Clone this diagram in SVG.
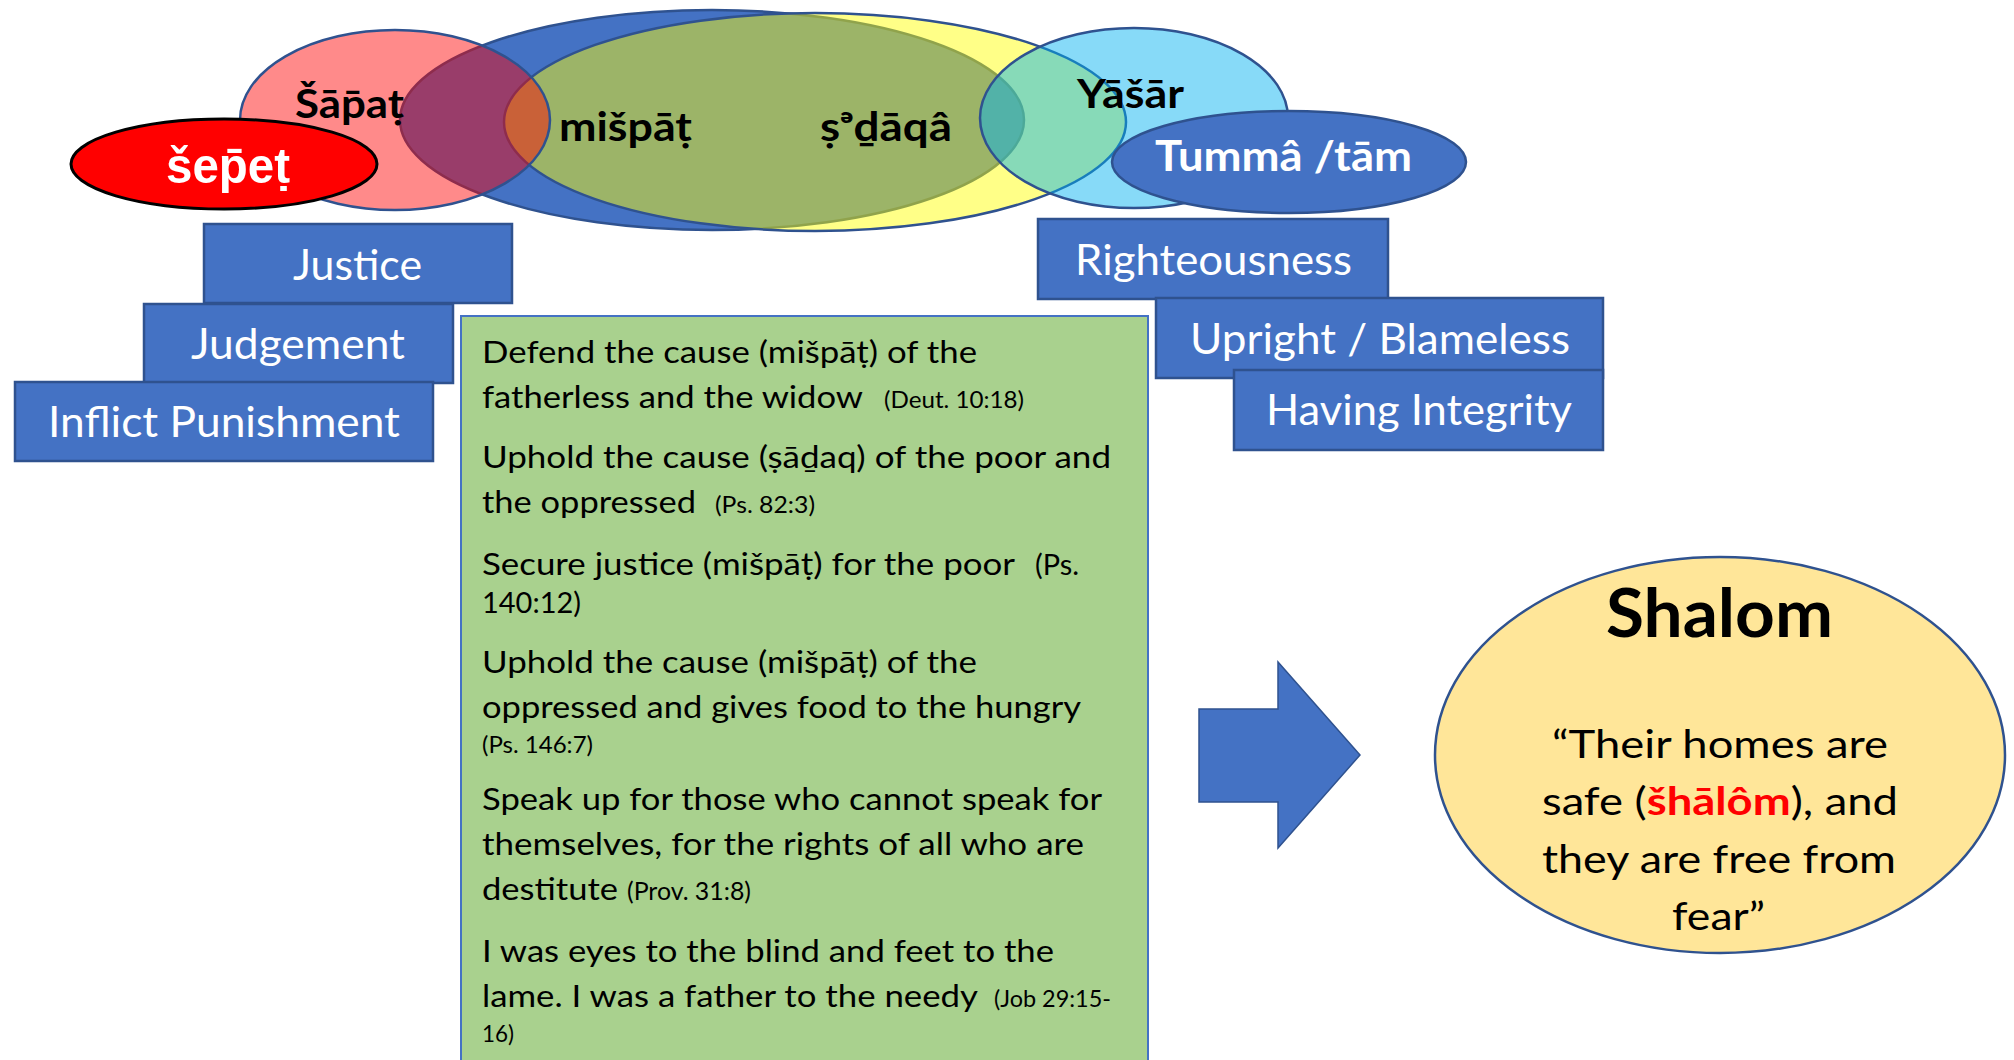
<svg xmlns="http://www.w3.org/2000/svg" width="2014" height="1060" viewBox="0 0 2014 1060">
<style>
.ol{stroke:#2F528F;stroke-width:2.5}
.box{fill:#4472C4;stroke:#2F528F;stroke-width:2.5}
.lbl{font-family:Lato,"Liberation Sans",sans-serif;font-size:42px;fill:#fff}
.hb{font-family:Lato,"Liberation Sans",sans-serif;font-weight:bold;font-size:40px;fill:#000}
.tx{font-family:Lato,"Liberation Sans",sans-serif;font-size:31px;fill:#000}
.sm{font-family:Lato,"Liberation Sans",sans-serif;font-size:23px;fill:#000}
.q{font-family:Lato,"Liberation Sans",sans-serif;font-size:39px;fill:#000}
</style>
<rect width="2014" height="1060" fill="#fff"/>

<g id="venn">
  <ellipse id="misphat-ellipse" cx="712" cy="120" rx="312" ry="110" fill="#4472C4" class="ol"/>
  <ellipse id="sedaqa-ellipse" cx="815" cy="122" rx="311" ry="109" fill="#FFFF00" fill-opacity="0.47" class="ol"/>
  <ellipse id="shapat-ellipse" cx="395" cy="120" rx="155" ry="90" fill="#FF0000" fill-opacity="0.46" class="ol"/>
  <ellipse id="yashar-ellipse" cx="1134" cy="118" rx="154" ry="90" fill="#00B0F0" fill-opacity="0.47" class="ol"/>
</g>

<g id="sepet">
  <ellipse cx="224" cy="164" rx="153" ry="45" fill="#FF0000" stroke="#000" stroke-width="3"/>
  <text x="166" y="183" font-family="'Liberation Sans',Arial,sans-serif" font-weight="bold" font-size="50" fill="#fff" textLength="124" lengthAdjust="spacingAndGlyphs">šep̄eṭ</text>
</g>

<g id="tumma">
  <ellipse cx="1289" cy="162" rx="177" ry="51" fill="#4472C4" class="ol"/>
  <text x="1155" y="171" class="hb" style="fill:#fff;font-size:42px" textLength="257" lengthAdjust="spacingAndGlyphs">Tummâ /tām</text>
</g>

<g id="venn-labels">
  <text x="295" y="118" class="hb" textLength="109" lengthAdjust="spacingAndGlyphs">Šāp̄aṭ</text>
  <text x="559" y="141" class="hb" textLength="133" lengthAdjust="spacingAndGlyphs">mišpāṭ</text>
  <text x="820" y="141" class="hb" textLength="132" lengthAdjust="spacingAndGlyphs">ṣᵊḏāqâ</text>
  <text x="1077" y="108" class="hb" textLength="107" lengthAdjust="spacingAndGlyphs">Yāšār</text>
</g>

<g id="justice">
  <rect x="204" y="224" width="308" height="79" class="box"/>
  <text x="293" y="280" class="lbl" textLength="129" lengthAdjust="spacingAndGlyphs">Justice</text>
</g>
<g id="judgement">
  <rect x="144" y="304" width="309" height="79" class="box"/>
  <text x="191" y="359" class="lbl" textLength="214" lengthAdjust="spacingAndGlyphs">Judgement</text>
</g>
<g id="inflict">
  <rect x="15" y="382" width="418" height="79" class="box"/>
  <text x="48" y="437" class="lbl" textLength="352" lengthAdjust="spacingAndGlyphs">Inflict Punishment</text>
</g>

<g id="righteousness">
  <rect x="1038" y="219" width="350" height="80" class="box"/>
  <text x="1075" y="275" class="lbl" textLength="277" lengthAdjust="spacingAndGlyphs">Righteousness</text>
</g>
<g id="upright">
  <rect x="1156" y="298" width="447" height="80" class="box"/>
  <text x="1190" y="354" class="lbl" textLength="380" lengthAdjust="spacingAndGlyphs">Upright / Blameless</text>
</g>
<g id="integrity">
  <rect x="1234" y="370" width="369" height="80" class="box"/>
  <text x="1266" y="425" class="lbl" textLength="306" lengthAdjust="spacingAndGlyphs">Having Integrity</text>
</g>

<g id="verses">
  <rect x="461" y="316" width="687" height="760" fill="#A9D18E" stroke="#4472C4" stroke-width="2"/>
  <text x="482" y="363" class="tx" textLength="495" lengthAdjust="spacingAndGlyphs">Defend the cause (mišpāṭ) of the</text>
  <text x="482" y="408" class="tx" textLength="381" lengthAdjust="spacingAndGlyphs">fatherless and the widow</text>
  <text x="884" y="408" class="sm" textLength="140" lengthAdjust="spacingAndGlyphs">(Deut. 10:18)</text>
  <text x="482" y="468" class="tx" textLength="629" lengthAdjust="spacingAndGlyphs">Uphold the cause (ṣāḏaq) of the poor and</text>
  <text x="482" y="513" class="tx" textLength="214" lengthAdjust="spacingAndGlyphs">the oppressed</text>
  <text x="715" y="513" class="sm" textLength="100" lengthAdjust="spacingAndGlyphs">(Ps. 82:3)</text>
  <text x="482" y="575" class="tx" textLength="533" lengthAdjust="spacingAndGlyphs">Secure justice (mišpāṭ) for the poor</text>
  <text x="1035" y="575" class="tx" style="font-size:29px" textLength="44" lengthAdjust="spacingAndGlyphs">(Ps.</text>
  <text x="482" y="613" class="tx" style="font-size:29px" textLength="99" lengthAdjust="spacingAndGlyphs">140:12)</text>
  <text x="482" y="673" class="tx" textLength="495" lengthAdjust="spacingAndGlyphs">Uphold the cause (mišpāṭ) of the</text>
  <text x="482" y="718" class="tx" textLength="599" lengthAdjust="spacingAndGlyphs">oppressed and gives food to the hungry</text>
  <text x="482" y="753" class="sm" textLength="111" lengthAdjust="spacingAndGlyphs">(Ps. 146:7)</text>
  <text x="482" y="810" class="tx" textLength="620" lengthAdjust="spacingAndGlyphs">Speak up for those who cannot speak for</text>
  <text x="482" y="855" class="tx" textLength="602" lengthAdjust="spacingAndGlyphs">themselves, for the rights of all who are</text>
  <text x="482" y="900" class="tx" textLength="136" lengthAdjust="spacingAndGlyphs">destitute</text>
  <text x="627" y="900" class="sm" style="font-size:25px" textLength="124" lengthAdjust="spacingAndGlyphs">(Prov. 31:8)</text>
  <text x="482" y="962" class="tx" textLength="572" lengthAdjust="spacingAndGlyphs">I was eyes to the blind and feet to the</text>
  <text x="482" y="1007" class="tx" textLength="496" lengthAdjust="spacingAndGlyphs">lame. I was a father to the needy</text>
  <text x="994" y="1007" class="sm" textLength="117" lengthAdjust="spacingAndGlyphs">(Job 29:15-</text>
  <text x="482" y="1042" class="sm" textLength="32" lengthAdjust="spacingAndGlyphs">16)</text>
</g>

<g id="connectors">
  <path d="M1199,709 L1278,709 L1278,662 L1360,755 L1278,848 L1278,802 L1199,802 Z" fill="#4472C4" stroke="#2F528F" stroke-width="1.5"/>
</g>

<g id="shalom">
  <ellipse cx="1720" cy="755" rx="285" ry="198" fill="#FFE699" stroke="#2F528F" stroke-width="2.5"/>
  <text x="1606" y="637" class="hb" style="font-size:66px" textLength="227" lengthAdjust="spacingAndGlyphs">Shalom</text>
  <text x="1552" y="758" class="q" textLength="336" lengthAdjust="spacingAndGlyphs">“Their homes are</text>
  <text x="1542" y="815" class="q" textLength="356" lengthAdjust="spacingAndGlyphs">safe (<tspan font-weight="bold" fill="#FF0000">šhālôm</tspan>), and</text>
  <text x="1542" y="873" class="q" textLength="354" lengthAdjust="spacingAndGlyphs">they are free from</text>
  <text x="1672" y="930" class="q" textLength="93" lengthAdjust="spacingAndGlyphs">fear”</text>
</g>
</svg>
